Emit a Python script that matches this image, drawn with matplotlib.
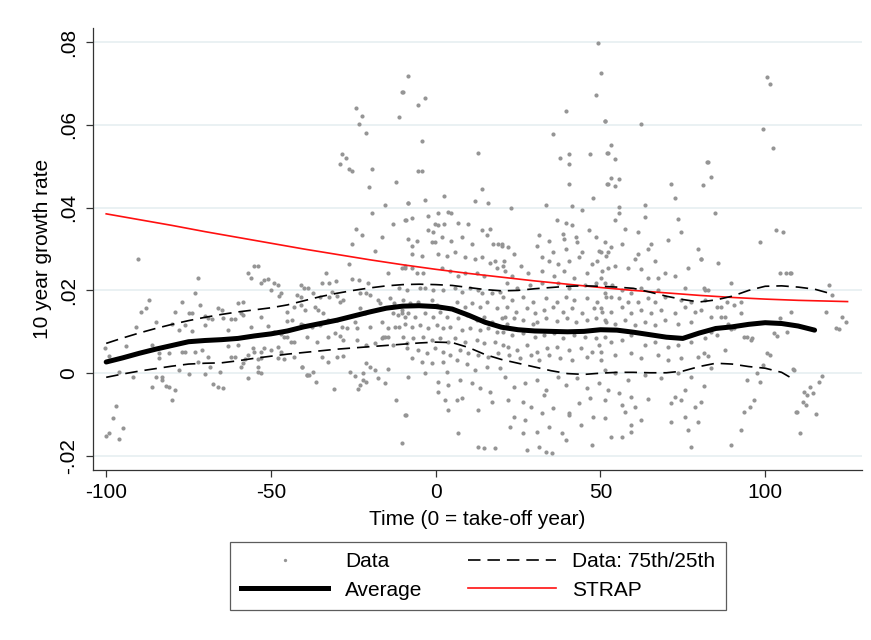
import numpy as np
import matplotlib
matplotlib.use("Agg")
import matplotlib.pyplot as plt
from matplotlib.lines import Line2D

# ---- observed 10-year growth rates (time relative to take-off, growth) ----
pts_early = [
    (-90.3, .0277), (-72, .0229), (-73, .0193), (-87, .0176), (-88, .0157), (-89.4, .0149),
    (-77, .0171), (-79, .0147), (-75, .0145), (-74, .0145), (-85, .0123), (-91, .0111),
    (-80, .0118), (-76, .0116), (-78, .0104), (-74, .0101), (-100.3, .0060), (-99, .0041),
    (-94, .0065), (-86, .0067), (-84, .0048), (-84, .0036), (-81, .0048), (-77, .0051),
    (-76, .0051), (-73, .0051), (-71, .0055), (-72, .0026), (-78, .0007), (-75, -.0002),
    (-96, .0002), (-92, -.0010), (-85, -.0010), (-83, -.0010), (-83, -.0017), (-82, -.0031),
    (-81, -.0034), (-86, -.0034), (-79, -.0041), (-80, -.0065), (-97, -.0080), (-98, -.0108),
    (-95, -.0133), (-100, -.0152), (-99, -.0145), (-96, -.0159),
    (-57, .0243), (-55, .0258), (-54, .0260), (-56, .0229), (-53, .0217), (-52, .0224),
    (-51, .0227), (-49, .0217), (-48, .0214), (-50, .0202), (-41, .0212), (-40, .0207),
    (-47, .0193), (-47.5, .0186), (-42, .0188), (-41, .0183), (-58.5, .0173), (-60, .0169),
    (-66, .0157), (-65, .0152), (-71.5, .0164), (-59, .0145), (-58.5, .0140), (-45, .0147),
    (-43, .0159), (-70, .0137), (-69, .0133), (-68, .0130), (-64.5, .0133), (-62, .0130),
    (-61, .0130), (-53, .0135), (-45, .0125), (-43.6, .0128), (-51, .0113), (-41, .0118),
    (-56, .0111), (-63, .0104), (-70, .0116), (-49, .0099), (-47, .0094), (-46, .0087),
    (-45, .0087), (-44, .0075), (-43, .0075), (-63, .0065), (-60, .0067), (-55.5, .0060),
    (-55, .0051), (-53, .0051), (-52, .0060), (-50, .0055), (-48, .0063), (-47, .0051),
    (-69, .0039), (-62, .0039), (-61, .0039), (-57, .0043), (-58, .0034), (-54, .0034),
    (-53, .0036), (-48, .0036), (-46, .0034), (-43, .0039), (-68.5, .0014), (-65.5, .0002),
    (-58.5, .0024), (-59, .0014), (-54, .0014), (-53, .0000), (-54, .0002), (-70, -.0002),
    (-57, -.0012), (-40.6, .0014), (-39, -.0005), (-67.6, -.0026), (-66, -.0034), (-64.5, -.0036),
]

pts_pre = [
    (-10.3, .0680), (-11.2, .0619), (-24.2, .0641), (-22.4, .0622), (-23.3, .0602), (-21.2, .0581),
    (-28.5, .0530), (-27.3, .0520), (-29, .0506), (-26.4, .0494), (-25.5, .0489), (-19.4, .0494),
    (-12.1, .0463), (-20.3, .0451), (-15.5, .0407), (-8.5, .0412), (-19.4, .0386), (-13, .0361),
    (-9, .0371), (-24.2, .0349), (-22.4, .0333), (-16.4, .0328), (-25.5, .0311), (-18.5, .0296),
    (-26.4, .0265), (-14.5, .0241), (-10.3, .0255), (-9.4, .0253), (-33.3, .0241), (-25.5, .0227),
    (-23.3, .0224), (-20.6, .0219), (-34.5, .0217), (-32.4, .0219), (-30.3, .0222), (-38.8, .0205),
    (-37.3, .0193), (-35, .0183), (-31.5, .0195), (-32.4, .0183), (-30, .0186), (-29, .0173),
    (-28, .0176), (-23, .0193), (-21, .0193), (-20, .0188), (-17.6, .0176), (-17, .0169),
    (-14, .0181), (-12.7, .0169), (-41, .0164), (-39.7, .0152), (-36.7, .0161), (-35.8, .0152),
    (-34.2, .0145), (-23, .0157), (-21.5, .0145), (-13, .0145), (-11.5, .0140), (-10.3, .0145),
    (-9.4, .0135), (-40.3, .0116), (-37.6, .0111), (-35, .0116), (-32.7, .0128), (-30, .0128),
    (-28.5, .0111), (-27, .0108), (-24.5, .0123), (-24, .0108), (-20, .0111), (-16.4, .0123),
    (-14.5, .0108), (-12.4, .0111), (-11, .0111), (-16, .0087), (-15.5, .0087), (-14.5, .0087),
    (-16.4, .0084), (-39, .0087), (-36, .0075), (-32.7, .0087), (-30.6, .0096), (-29, .0089),
    (-28, .0080), (-24, .0080), (-21, .0067), (-18.5, .0072), (-8.8, .0072), (-13, .0067),
    (-34.5, .0039), (-32.7, .0027), (-30, .0039), (-28, .0041), (-40.6, .0014), (-37.3, .0002),
    (-39, -.0005), (-26, .0002), (-24.5, -.0007), (-22, .0000), (-21, .0024), (-20, .0014),
    (-18.5, .0007), (-17.6, -.0012), (-15.5, -.0024), (-14.5, .0010), (-23, -.0029),
    (-22, -.0017), (-21, -.0022), (-31, -.0039), (-23.6, -.0039), (-36.4, -.0022),
    (-38.5, -.0005), (-12, -.0065), (-9, -.0101), (-10.3, -.0169),
]

pts_takeoff = [
    (-8.5, .0718), (-10, .0680), (-3.3, .0665), (-5.5, .0648), (-4.2, .0561), (-5.5, .0489),
    (-4.2, .0489), (12.7, .0533), (14, .0446), (11.8, .0417), (15.8, .0412), (-8.5, .0412),
    (-3.3, .0419), (2.4, .0427), (-9.4, .0371), (-7.3, .0376), (-2.4, .0380), (0.6, .0388),
    (3.6, .0390), (4.8, .0388), (6.7, .0364), (9.7, .0361), (-0.3, .0361), (0.6, .0357),
    (2.4, .0361), (-2.4, .0345), (-0.9, .0342), (14, .0345), (16.4, .0349), (15.5, .0333),
    (-8.5, .0325), (-5.8, .0320), (-1.2, .0318), (-0.3, .0316), (1.8, .0328), (4.8, .0320),
    (7.9, .0328), (10.9, .0313), (17.3, .0313), (18.8, .0313), (20, .0308), (-7.3, .0308),
    (-7.3, .0289), (-4.2, .0284), (0.6, .0289), (3.3, .0284), (5.8, .0292), (8.8, .0280),
    (11.8, .0277), (14, .0280), (16.4, .0267), (17.9, .0272), (-9.4, .0258), (-7.3, .0253),
    (-5.8, .0243), (-3.9, .0241), (1.8, .0255), (4.2, .0248), (6.7, .0236), (8.8, .0241),
    (12.4, .0241), (14.8, .0236), (18.5, .0253), (20.3, .0260), (-11, .0207), (-8.8, .0200),
    (-4.8, .0205), (-3.3, .0207), (-0.9, .0200), (2.1, .0200), (5.8, .0207), (7.9, .0195),
    (10.3, .0207), (12.7, .0200), (14.2, .0193), (17, .0193), (19.4, .0195), (-10, .0176),
    (-7.9, .0169), (-5.5, .0171), (-1.2, .0176), (0.3, .0164), (6.4, .0171), (8.8, .0159),
    (10.9, .0169), (13.3, .0159), (15.5, .0171), (18.5, .0157), (-10.3, .0152), (-8.5, .0145),
    (-6.4, .0135), (-3.3, .0145), (-0.9, .0135), (1.2, .0147), (3.3, .0135), (6.7, .0133),
    (9.4, .0140), (12.4, .0128), (14.8, .0135), (17, .0123), (20, .0133), (21.5, .0120),
    (-9.4, .0120), (-7.3, .0111), (-4.8, .0116), (-2.4, .0108), (0.3, .0116), (2.1, .0108),
    (4.2, .0111), (7.9, .0104), (10.3, .0108), (13.3, .0104), (15.8, .0108), (18.5, .0099),
    (-10, .0087), (-7, .0084), (-3.9, .0087), (-1.2, .0080), (1.2, .0084), (3.6, .0075),
    (5.8, .0084), (8.8, .0075), (12.4, .0080), (14.8, .0072), (17.9, .0075), (20.3, .0067),
    (-8.8, .0060), (-5.5, .0055), (-2.7, .0048), (-0.3, .0060), (2.1, .0051), (4.2, .0043),
    (7.3, .0055), (9.7, .0048), (12.7, .0043), (15.8, .0039), (18.8, .0048), (-7.3, .0036),
    (-4.2, .0027), (-1.2, .0024), (2.1, .0027), (6.4, .0031), (9.4, .0022), (15.5, .0014),
    (-3.3, .0000), (3.3, .0002), (11.8, .0007), (19.4, .0012), (-8.5, -.0010), (0.6, -.0022),
    (3.6, -.0029), (7.3, -.0017), (10.9, -.0024), (13.3, -.0036), (16.4, -.0046), (0.6, -.0046),
    (2.7, -.0065), (6.4, -.0065), (7.9, -.0060), (12.7, -.0089), (17, -.0070), (3.6, -.0089),
    (-9.4, -.0101), (6.7, -.0145), (12.7, -.0178), (14.8, -.0181), (17.9, -.0181),
]

pts_post = [
    (49.4, .0798), (50.3, .0725), (48.8, .0672), (39.7, .0634), (51.5, .0610), (35.5, .0578),
    (37.6, .0520), (40.6, .0530), (40.6, .0506), (46.7, .0530), (52, .0533), (40.6, .0458),
    (52, .0458), (47.6, .0424), (41.5, .0405), (33.6, .0407), (23, .0398), (44.5, .0395),
    (36.7, .0371), (39.7, .0364), (46.4, .0345), (41.5, .0357), (38.5, .0337), (31.5, .0333),
    (34.5, .0320), (39, .0325), (42.7, .0330), (43, .0316), (48.8, .0328), (20, .0313),
    (21.8, .0306), (23.9, .0289), (30.6, .0308), (35.5, .0292), (39.7, .0301), (44.5, .0292),
    (49.7, .0296), (20.6, .0272), (26, .0260), (32.4, .0280), (34.5, .0272), (37, .0265),
    (40.6, .0272), (43.6, .0280), (47.3, .0265), (49, .0272), (51.8, .0284), (20.9, .0248),
    (23.3, .0236), (27.9, .0241), (32.4, .0248), (36, .0236), (39, .0248), (42, .0231),
    (45.8, .0241), (50.6, .0248), (21.5, .0217), (24.8, .0207), (28.5, .0212), (32.4, .0219),
    (37, .0217), (40.6, .0207), (45.2, .0212), (48.8, .0217), (20.3, .0183), (23.3, .0176),
    (26.4, .0183), (29.4, .0171), (33.6, .0181), (36.7, .0171), (39.7, .0183), (42.1, .0176),
    (46, .0181), (49.1, .0171), (51.8, .0183), (21.5, .0159), (24.5, .0147), (27.6, .0157),
    (30, .0145), (33, .0152), (35.5, .0159), (38.5, .0147), (41.5, .0157), (44.5, .0145),
    (48.2, .0157), (50.6, .0147), (20.9, .0135), (23.9, .0133), (26.4, .0128), (29.4, .0120),
    (30.6, .0123), (33.6, .0133), (36.7, .0125), (40, .0133), (42.7, .0123), (45.8, .0128),
    (48.8, .0133), (51.8, .0123), (20.3, .0099), (23.3, .0092), (26.4, .0096), (30, .0087),
    (33, .0092), (36, .0096), (38.5, .0084), (42, .0092), (45.2, .0087), (48.8, .0084),
    (21.8, .0063), (24.8, .0055), (27.6, .0067), (30.6, .0051), (33.9, .0060), (36.9, .0063),
    (40.6, .0055), (44.2, .0060), (47.3, .0051), (49.7, .0067), (22.4, .0043), (25.5, .0036),
    (29, .0043), (31.5, .0031), (34.5, .0043), (37.6, .0036), (41.5, .0031), (45.8, .0039),
    (50.3, .0031), (20.9, -.0010), (23.9, -.0034), (27, -.0024), (30.6, -.0017), (33.6, -.0041),
    (37, -.0010), (39.7, -.0029), (43, -.0012), (46, -.0036), (49.7, -.0024), (21.8, -.0065),
    (26.4, -.0070), (29, -.0082), (33, -.0053), (35.5, -.0084), (40.6, -.0096), (43.6, -.0072),
    (46.7, -.0060), (23.9, -.0106), (27, -.0113), (32.4, -.0096), (40.6, -.0101), (47.6, -.0106),
    (22.7, -.0130), (26.4, -.0145), (30.9, -.0142), (34.5, -.0130), (38.2, -.0145),
    (44.2, -.0125), (47.3, -.0173), (27.6, -.0186), (31.5, -.0178), (33.6, -.0190),
    (35.2, -.0193), (39.7, -.0161),
]

pts_mature = [
    (51.5, .0610), (62.4, .0602), (53.3, .0552), (52.4, .0533), (54.5, .0518), (53.3, .0472),
    (55.5, .0470), (52.4, .0458), (54.5, .0453), (71.5, .0458), (72.7, .0424), (82.4, .0511),
    (63.6, .0407), (63.6, .0378), (55.5, .0402), (55.5, .0386), (54.5, .0369), (57.6, .0349),
    (61.5, .0342), (73.6, .0373), (74.5, .0342), (70.6, .0323), (51.5, .0316), (53.3, .0306),
    (56.4, .0311), (65.5, .0313), (64.5, .0299), (79.7, .0301), (50.3, .0292), (52.4, .0292),
    (61.5, .0289), (66.7, .0270), (69.7, .0243), (76.7, .0255), (80.6, .0275), (52.4, .0253),
    (54.5, .0258), (58.5, .0255), (60.6, .0275), (62.4, .0251), (64.5, .0231), (67.6, .0231),
    (72.7, .0234), (50.3, .0229), (51.5, .0219), (53.6, .0212), (56.4, .0200), (59.4, .0193),
    (62.4, .0205), (67.6, .0200), (75.8, .0207), (81.8, .0202), (51.5, .0193), (53.3, .0183),
    (55.5, .0181), (58.5, .0171), (61.5, .0173), (64.5, .0181), (66.7, .0171), (69.7, .0183),
    (74.5, .0176), (77.6, .0171), (81.8, .0176), (50.3, .0157), (53.3, .0147), (56.4, .0159),
    (59.4, .0145), (62.4, .0152), (65.5, .0145), (68.5, .0152), (72.7, .0145), (75.8, .0159),
    (78.8, .0147), (80.6, .0152), (51.5, .0128), (54.5, .0120), (57.6, .0128), (60.6, .0116),
    (63.6, .0123), (66.7, .0116), (69.7, .0128), (73.6, .0120), (77.6, .0123), (51.5, .0087),
    (53.3, .0075), (56.4, .0080), (59.4, .0092), (63.6, .0067), (66.7, .0075), (70.6, .0063),
    (73.6, .0067), (77.6, .0075), (81.8, .0084), (50.3, .0051), (54.5, .0043), (59.4, .0048),
    (62.4, .0036), (67.6, .0043), (70.6, .0031), (74.5, .0036), (79.7, .0039), (51.5, .0007),
    (54.5, .0000), (58.5, -.0017), (63.6, -.0005), (68.5, -.0012), (73.6, .0000), (77.6, -.0010),
    (52.4, -.0041), (55.5, -.0048), (59.4, -.0058), (64.5, -.0063), (72.7, -.0058),
    (75.8, -.0041), (51.5, -.0065), (56.4, -.0077), (60.6, -.0082), (71.5, -.0072),
    (74.5, -.0065), (78.8, -.0082), (51.5, -.0108), (57.6, -.0094), (59.4, -.0125),
    (62.4, -.0113), (71.5, -.0118), (75.8, -.0106), (79.7, -.0118), (53.3, -.0154),
    (56.4, -.0154), (59.4, -.0142), (76.7, -.0137), (77.6, -.0178),
]

pts_late = [
    (100.6, .0716), (101.5, .0699), (99.4, .0590), (102.4, .0545), (82.7, .0511), (83.6, .0475),
    (81.2, .0455), (84.8, .0386), (103.3, .0345), (105.5, .0342), (98.5, .0316), (80.6, .0275),
    (85.8, .0267), (104.5, .0241), (106.4, .0243), (107.6, .0243), (89.7, .0217), (81.5, .0205),
    (82.7, .0200), (90.6, .0164), (92.7, .0171), (88.5, .0171), (85.5, .0159), (86.7, .0159),
    (92.7, .0145), (83.6, .0135), (86.7, .0135), (87.9, .0135), (107.9, .0149), (104.5, .0133),
    (88.8, .0120), (89.7, .0106), (90.6, .0108), (83.6, .0099), (85.5, .0092), (93.6, .0087),
    (94.5, .0087), (95.8, .0080), (96, .0084), (102.7, .0096), (103.6, .0089), (106.7, .0099),
    (87.9, .0055), (81.5, .0048), (82.7, .0041), (83.6, .0012), (100.6, .0048), (101.5, .0043),
    (99.4, .0019), (97.6, .0000), (98.5, -.0022), (94.5, -.0017), (108.8, .0007), (81.5, -.0031),
    (80.6, -.0070), (96.7, -.0065), (95.5, -.0082), (93.6, -.0094), (109.7, -.0094),
    (111.8, -.0046), (112.7, -.0053), (92.7, -.0137), (110.6, -.0145), (89.7, -.0173),
    (107.9, .0243), (119.4, .0214), (120.3, .0190), (118.5, .0147), (123.3, .0135),
    (124.5, .0123), (121.5, .0108), (122.4, .0106), (108.5, .0010), (117.3, -.0007),
    (116.4, -.0022), (113.6, -.0034), (114.5, -.0048), (111.5, -.0070), (112.4, -.0077),
    (109.4, -.0094), (115.5, -.0099),
]

# ---- smoothed series ----
avg_t = [-100, -95, -90, -85, -80, -75, -70, -65, -60, -55, -50, -45, -40, -35, -30, -25,
         -20, -15, -10, -5, 0, 5, 10, 15, 20, 25, 30, 35, 40, 45, 50, 55, 60, 65, 70, 75,
         80, 85, 90, 95, 100, 105, 110, 115]
avg_g = [.0027, .0037, .0048, .0058, .0067, .0076, .0079, .0081, .0084, .0090, .0095, .0102,
         .0112, .0120, .0128, .0138, .0148, .0157, .0162, .0163, .0161, .0155, .0140, .0123,
         .0111, .0105, .0102, .0101, .0100, .0101, .0105, .0104, .0099, .0093, .0087, .0084,
         .0097, .0108, .0112, .0118, .0122, .0120, .0114, .0104]

p75_t = [-100, -95, -90, -85, -80, -75, -70, -65, -60, -55, -50, -45, -40, -35, -30, -25,
         -20, -15, -10, -5, 0, 5, 10, 15, 20, 25, 30, 35, 40, 45, 50, 55, 60, 65, 70, 75,
         80, 85, 90, 95, 100, 105, 110, 115, 120]
p75_g = [.0072, .0085, .0097, .0108, .0118, .0127, .0135, .0142, .0148, .0153, .0158, .0165,
         .0175, .0185, .0193, .0200, .0206, .0211, .0214, .0215, .0214, .0212, .0207, .0202,
         .0199, .0200, .0204, .0207, .0210, .0211, .0210, .0208, .0205, .0196, .0186, .0178,
         .0172, .0177, .0186, .0200, .0210, .0211, .0208, .0203, .0192]

p25_t = [-100, -95, -90, -85, -80, -75, -70, -65, -60, -55, -50, -45, -40, -35, -30, -25,
         -20, -15, -10, -5, 0, 5, 10, 15, 20, 25, 30, 35, 40, 45, 50, 55, 60, 65, 70, 75,
         80, 85, 90, 95, 100, 105, 108]
p25_g = [-.0010, -.0002, .0005, .0011, .0017, .0022, .0024, .0025, .0030, .0036, .0041, .0046,
         .0050, .0054, .0058, .0061, .0064, .0067, .0070, .0073, .0075, .0074, .0062, .0045,
         .0033, .0024, .0015, .0006, -.0001, -.0003, .0000, .0002, .0002, .0001, .0001, .0005,
         .0016, .0024, .0022, .0016, .0012, .0002, -.0012]

strap_t = [-100, -90, -80, -70, -60, -50, -40, -30, -20, -10, 0, 10, 20, 30, 40, 50, 60, 70,
           80, 90, 100, 110, 120, 125]
strap_g = [.0385, .0371, .0357, .0342, .0328, .0314, .0300, .0287, .0274, .0262, .0251, .0241,
           .0232, .0223, .0215, .0207, .0200, .0194, .0188, .0183, .0179, .0176, .0174, .0173]

x_ticks = [-100, -50, 0, 50, 100]
y_ticks = [-.02, 0, .02, .04, .06, .08]
y_tick_labels = ["-.02", "0", ".02", ".04", ".06", ".08"]

DOT = "#959595"
RED = "#ff1010"


def main():
    plt.rcParams.update({"font.family": ["Liberation Sans", "DejaVu Sans"],
                         "lines.scale_dashes": False})
    pts = np.array(pts_early + pts_pre + pts_takeoff + pts_post + pts_mature + pts_late)

    fig = plt.figure(figsize=(8.71, 6.40), dpi=100)
    ax = fig.add_axes([0.1068, 0.2656, 0.8829, 0.6906])

    for y in y_ticks:
        ax.axhline(y, color="#e8f0f2", lw=1.3, zorder=0)

    ax.scatter(pts[:, 0], pts[:, 1], s=9, c=DOT, linewidths=0, zorder=1)
    ax.plot(p75_t, p75_g, color="black", lw=1.2, dashes=(9, 5), zorder=3)
    ax.plot(p25_t, p25_g, color="black", lw=1.2, dashes=(9, 5), zorder=3)
    ax.plot(avg_t, avg_g, color="black", lw=3.6, solid_capstyle="round", zorder=4)
    ax.plot(strap_t, strap_g, color=RED, lw=1.2, zorder=2)

    ax.set_xlim(-104, 129.4)
    ax.set_ylim(-.0234, .0834)
    ax.set_xticks(x_ticks)
    ax.set_xticklabels([str(v) for v in x_ticks])
    ax.set_yticks(y_ticks)
    ax.set_yticklabels(y_tick_labels, rotation=90, va="center")
    ax.tick_params(axis="both", length=5, width=0.9, color="#333333", labelsize=15)
    ax.tick_params(axis="x", pad=4)
    ax.tick_params(axis="y", pad=6)
    for side in ("top", "right"):
        ax.spines[side].set_visible(False)
    for side in ("left", "bottom"):
        ax.spines[side].set_color("#333333")
        ax.spines[side].set_linewidth(0.9)

    ax.set_xlabel("Time (0 = take-off year)", fontsize=15, labelpad=6)
    ax.set_ylabel("10 year growth rate", fontsize=15, labelpad=5)

    handles = [
        Line2D([], [], ls="none", marker="o", ms=2.4, mfc=DOT, mec="none"),
        Line2D([], [], color="black", lw=3.6),
        Line2D([], [], color="black", lw=1.2, dashes=(9, 5)),
        Line2D([], [], color=RED, lw=1.2),
    ]
    labels = ["Data", "Average", "Data: 75th/25th", "STRAP"]
    leg = fig.legend(handles, labels, ncol=2, loc="center", bbox_to_anchor=(0.549, 0.1),
                     fontsize=15, frameon=True, fancybox=False, edgecolor="#333333",
                     handlelength=4.2, handletextpad=0.8, columnspacing=2.2,
                     labelspacing=0.45, borderpad=0.5)
    leg.get_frame().set_linewidth(0.9)

    fig.savefig("out.png", dpi=100)


if __name__ == "__main__":
    main()
